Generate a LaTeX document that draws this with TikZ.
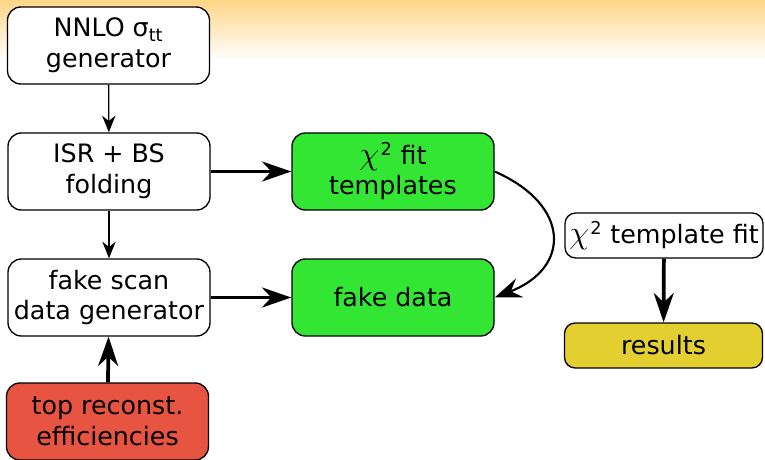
\documentclass[tikz,border=0pt]{standalone}
\usepackage{graphicx}
\usepackage{fontspec}
\setmainfont{DejaVu Sans}
\usetikzlibrary{arrows.meta}
\definecolor{bgorange}{RGB}{255,213,136}
\definecolor{boxgreen}{RGB}{52,230,52}
\definecolor{boxred}{RGB}{232,84,66}
\definecolor{boxyellow}{RGB}{227,208,48}
\newcommand{\bigchi}{\scalebox{1.4}{$\chi$}\kern1pt}
\tikzset{
  box/.style={draw=black, line width=1pt, rounded corners=10pt, fill=white,
    minimum width=151.5pt, minimum height=57.75pt, align=center, inner sep=1pt,
    font=\fontsize{19}{23}\selectfont},
  smallbox/.style={box, minimum width=148.5pt, minimum height=33.75pt, rounded corners=8pt},
  thinarrow/.style={draw, line width=1pt, -{Stealth[length=12.5pt, width=10pt, inset=4pt]}},
  thickarrow/.style={draw, line width=2.8pt, -{Stealth[length=22pt, width=15pt, inset=7pt]}},
}
\begin{document}
\begin{tikzpicture}[x=0.75pt, y=-0.75pt]
\useasboundingbox (0,0) rectangle (765,460);
\shade[top color=bgorange, bottom color=white] (0,0) rectangle (765,60);
\node[box] (nnlo) at (108.5,45.5) {NNLO σ\textsubscript{tt}\\generator};
\node[box] (isr) at (109,171.5) {ISR + BS\\folding};
\node[box] (scan) at (109,297.5) {fake scan\\data generator};
\node[box, fill=boxred] (eff) at (107.5,421.5) {top reconst.\\efficiencies};
\node[box, fill=boxgreen] (tmpl) at (393,171.5) {\bigchi\textsuperscript{2} fit\\templates};
\node[box, fill=boxgreen] (fake) at (393,297.5) {fake data};
\node[smallbox] (fit) at (664,235.5) {\bigchi\textsuperscript{2} template fit};
\node[smallbox, fill=boxyellow] (res) at (663.5,345.5) {results};
\draw[thinarrow] (nnlo) -- (isr);
\draw[thinarrow] (isr) -- (scan);
\draw[thickarrow] (isr) -- (tmpl);
\draw[thickarrow] (scan) -- (fake);
\draw[thickarrow] (eff) -- (scan);
\draw[thickarrow] (fit) -- (res);
\draw[line width=1.6pt, -{Stealth[length=20pt, width=15pt, inset=7pt]}] (tmpl.east) .. controls (571,205) and (571,268) .. (fake.east);
\end{tikzpicture}
\end{document}
